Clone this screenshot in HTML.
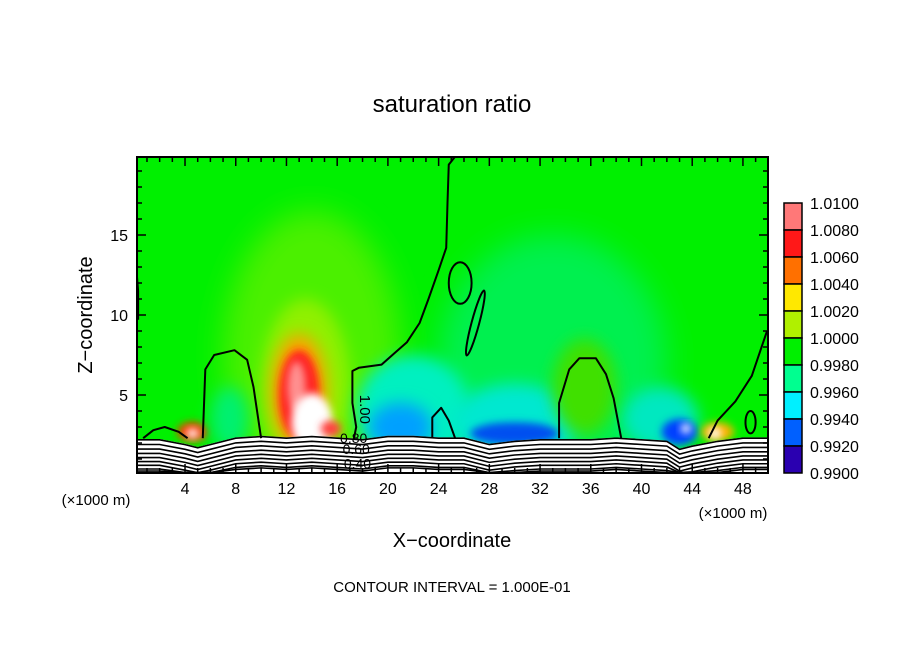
<!DOCTYPE html>
<html><head><meta charset="utf-8"><style>
body{margin:0;background:#fff;}
svg{display:block;font-family:"Liberation Sans","DejaVu Sans",sans-serif;}
</style></head><body>
<svg id="chart" width="904" height="654" viewBox="0 0 904 654">
<defs>
<clipPath id="clip"><rect x="137" y="157" width="631" height="316"/></clipPath>
<filter id="b8" x="-50%" y="-50%" width="200%" height="200%"><feGaussianBlur stdDeviation="8"/></filter>
<filter id="b4" x="-50%" y="-50%" width="200%" height="200%"><feGaussianBlur stdDeviation="4"/></filter>
<filter id="b15" x="-50%" y="-50%" width="200%" height="200%"><feGaussianBlur stdDeviation="15"/></filter>
</defs>
<text x="452" y="112" text-anchor="middle" font-size="24">saturation ratio</text>
<g clip-path="url(#clip)">
<rect x="137" y="157" width="631" height="316" fill="#00f000"/>
<g id="blobs"></g>
<g id="terrain"></g>
<g id="contours"></g>
</g>
<rect x="137" y="157" width="631" height="316" fill="none" stroke="#000" stroke-width="2"/>
<g id="axes"></g>
<g id="cbar"></g>
<text x="96" y="505" text-anchor="middle" font-size="15">(×1000 m)</text>
<text x="733" y="518" text-anchor="middle" font-size="15">(×1000 m)</text>
<text x="452" y="547" text-anchor="middle" font-size="20">X−coordinate</text>
<text x="92" y="315" text-anchor="middle" font-size="20" transform="rotate(-90 92 315)">Z−coordinate</text>
<text x="452" y="592" text-anchor="middle" font-size="15">CONTOUR INTERVAL = 1.000E-01</text>
</svg>
<script>
const xTicks=[4,8,12,16,20,24,28,32,36,40,44,48];
const yTicks=[5,10,15];
const cbLevels=["1.0100","1.0080","1.0060","1.0040","1.0020","1.0000","0.9980","0.9960","0.9940","0.9920","0.9900"];
const cbColors=["#ff7878","#ff1818","#ff7000","#ffe800","#b0f000","#00f000","#00ff90","#00f0ff","#0060ff","#2a00b0"];
const blobs=[
[14,7.5,7,9,"#4cf000","b15"],[13.5,5.5,3.5,5.5,"#90f000","b8"],
[13,5.2,2.2,3.6,"#ffa000","b8"],[13,5,1.6,2.8,"#ff2020","b4"],[12.8,5.5,.7,1.6,"#ff9090","b4"],
[14,3.3,1.6,1.8,"#ffffff","b4"],[15.5,2.9,.8,.5,"#ff4040","b4"],
[4.6,2.7,1.2,.6,"#ff3000","b4"],[4.6,2.6,.5,.3,"#ffffff","b4"],
[33,7,9,8,"#00f050","b15"],[22,4,4.5,3.5,"#00f0c0","b8"],[21,3,2.5,1.5,"#00a0ff","b8"],
[30,3.2,5,2.5,"#00e8d0","b8"],[30,2.6,3.5,.7,"#0050f0","b4"],
[41.5,3.5,3,2,"#00e8c0","b8"],[43,2.7,1.4,.8,"#0040ff","b4"],[43.5,2.9,.4,.3,"#ffffff","b4"],
[46,2.7,1.3,.6,"#ffb000","b4"],[45.8,2.6,.5,.35,"#ffffff","b4"],
[35.5,5.5,2.5,3,"#40e000","b8"],[7.5,3.5,1.5,2,"#00f070","b8"]];
const terrainX=[0,2,4,5,6,8,10,12,14,16,18,20,22,24,26,28,30,32,34,36,38,40,42,43,44,46,48,50];
const terrainZ=[2.2,2.2,1.9,1.7,1.9,2.3,2.4,2.3,2.4,2.3,2.2,2.4,2.4,2.3,2.3,1.9,2.1,2.2,2.2,2.2,2.3,2.2,2.1,1.6,1.8,2.1,2.3,2.3];
const layerOffsets=[0,-.3,-.6,-.9,-1.2,-1.5,-1.8,-2.1,-2.3];
const contours=[
[[25.3,19.9],[24.8,19.4],[24.7,17],[24.6,14.2],[24,12.8],[23.2,11],[22.5,9.5],[21.5,8.3],[20.5,7.6],[19.5,6.9],[17.7,6.7],[17.2,6.5],[17.2,4.5],[17.5,3],[17.3,2.2]],
[[5.4,2.3],[5.6,6.6],[6.3,7.5],[7.9,7.8],[8.9,7.2],[9.4,5.5],[10,2.3]],
[[0.7,2.3],[1.5,2.8],[2.4,3],[3.5,2.7],[4.2,2.3]],
[[23.5,2.3],[23.5,3.6],[24.2,4.2],[24.8,3.4],[25.3,2.3]],
[[33.5,2.3],[33.5,4.5],[34.3,6.6],[35.1,7.3],[36.4,7.3],[37.2,6.3],[37.8,4.8],[38.4,2.3]],
[[45.3,2.3],[46,3.4],[47.4,4.6],[48.7,6.2],[49.9,9]],
[[0.1,13.5],[0.3,11.5],[0.3,9.7]]];
const ellipses=[[25.7,12,0.9,1.3,0],[26.9,9.5,0.3,2.1,15],[48.6,3.3,0.4,0.7,0]];
function px(x){return 134.3+12.68*x;}
function py(z){return 475-16*z;}
const NS="http://www.w3.org/2000/svg";
function mk(t,a,p){const e=document.createElementNS(NS,t);for(const k in a)e.setAttribute(k,a[k]);p.appendChild(e);return e;}
const gB=document.getElementById("blobs");
blobs.forEach(b=>{const e=mk("ellipse",{cx:px(b[0]),cy:py(b[1]),rx:b[2]*12.68,ry:b[3]*16,fill:b[4],filter:"url(#"+b[5]+")"},gB);

});
const gT=document.getElementById("terrain");
const topPath=terrainX.map((x,i)=>px(x)+","+py(terrainZ[i]+0.05)).join(" L");
const bg=mk("path",{d:"M"+topPath+" L"+px(50)+",480 L"+px(0)+",480 Z",fill:"#fff"},gT);


layerOffsets.forEach((o,j)=>{const d="M"+terrainX.map((x,i)=>px(x)+","+py(Math.max(0.15,terrainZ[i]+o*(1-0.15*j/8)))).join(" L");
const e=mk("path",{d:d,fill:"none",stroke:"#000","stroke-width":1.6},gT);

});
const gC=document.getElementById("contours");
contours.forEach(c=>{const e=mk("polyline",{points:c.map(p=>px(p[0])+","+py(p[1])).join(" "),fill:"none",stroke:"#000","stroke-width":2,"stroke-linejoin":"round"},gC);

});
ellipses.forEach(c=>{const e=mk("ellipse",{cx:px(c[0]),cy:py(c[1]),rx:c[2]*12.68,ry:c[3]*16,fill:"none",stroke:"#000","stroke-width":2,transform:"rotate("+c[4]+" "+px(c[0])+" "+py(c[1])+")"},gC);

});
[["1.00",17.8,4.1,90,15],["0.80",17.3,2.0,0,14],["0.60",17.5,1.3,0,14],["0.40",17.6,0.4,0,14]].forEach(l=>{
const t=mk("text",{x:px(l[1]),y:py(l[2]),"font-size":l[4],"text-anchor":"middle",transform:"rotate("+l[3]+" "+px(l[1])+" "+py(l[2])+")"},gC);t.textContent=l[0];

});
const gA=document.getElementById("axes");
for(let x=1;x<50;x++){const L=x%4===0?9:5;
mk("line",{x1:px(x),x2:px(x),y1:473,y2:473-L,stroke:"#000","stroke-width":1.5},gA);
mk("line",{x1:px(x),x2:px(x),y1:157,y2:157+L,stroke:"#000","stroke-width":1.5},gA);}
for(let z=1;z<20;z++){const L=z%5===0?9:5;
mk("line",{x1:137,x2:137+L,y1:py(z),y2:py(z),stroke:"#000","stroke-width":1.5},gA);
mk("line",{x1:768,x2:768-L,y1:py(z),y2:py(z),stroke:"#000","stroke-width":1.5},gA);}
xTicks.forEach(v=>{const t=mk("text",{x:px(v),y:494,"font-size":16,"text-anchor":"middle"},gA);t.textContent=v;

});
yTicks.forEach(v=>{const t=mk("text",{x:128,y:py(v)+6,"font-size":16,"text-anchor":"end"},gA);t.textContent=v;

});
const gK=document.getElementById("cbar");
const cTop=203,cBot=473,h=(cBot-cTop)/(cbLevels.length-1);
cbColors.forEach((c,i)=>{const r=mk("rect",{x:784,y:cTop+i*h,width:18,height:h,fill:c,stroke:"#000","stroke-width":1.5},gK);

});
cbLevels.forEach((v,i)=>{const t=mk("text",{x:810,y:cTop+i*h+6,"font-size":16},gK);t.textContent=v;

});
</script>
</body></html>
